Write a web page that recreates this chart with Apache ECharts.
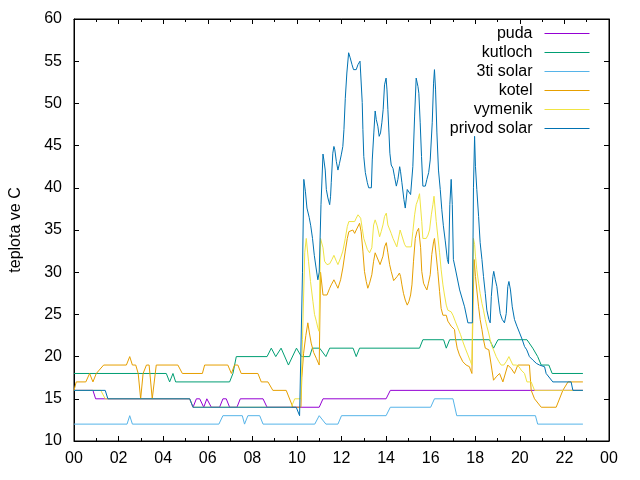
<!DOCTYPE html>
<html><head><meta charset="utf-8">
<script src="https://cdn.jsdelivr.net/npm/echarts@6/dist/echarts.min.js"></script>
<style>html,body{margin:0;padding:0;background:#fff}#c{width:640px;height:480px}</style>
</head><body><div id="c"></div>
<script>
const seriesNames = ['puda', 'kutloch', '3ti solar', 'kotel', 'vymenik', 'privod solar'];
const xTickHours = [0, 2, 4, 6, 8, 10, 12, 14, 16, 18, 20, 22, 24];
const yTicks = [10, 15, 20, 25, 30, 35, 40, 45, 50, 55, 60];

const pudaT = [0, 0.85, 0.97, 5.19, 5.34, 5.49, 5.64, 5.82, 5.96, 6.16, 6.53, 6.68, 6.83, 6.98, 7.31, 7.46, 8.48, 8.66, 11.0, 11.17, 14.0, 14.19, 22.83];
const pudaV = [16, 16, 15, 15, 14, 15, 15, 14, 15, 14, 14, 15, 15, 14, 14, 15, 15, 14, 14, 15, 15, 16, 16];

const kutlochT = [0, 4.14, 4.29, 4.44, 4.56, 6.98, 7.13, 7.28, 8.66, 8.85, 9.05, 9.29, 9.62, 9.98, 10.2, 10.57, 10.69, 11.02, 11.3, 11.47, 12.52, 12.66, 12.81, 15.5, 15.65, 16.58, 16.7, 16.85, 18.64, 18.82, 19.02, 20.32, 20.58, 20.8, 20.96, 21.3, 21.45, 22.83];
const kutlochV = [18, 18, 17, 18, 17, 17, 18, 20, 20, 21, 20, 21, 19, 21, 20, 20, 21, 21, 20, 21, 21, 20, 21, 21, 22, 22, 21, 22, 22, 21, 22, 22, 21, 20, 19, 19, 18, 18];

const solar3T = [0, 2.38, 2.5, 2.62, 6.5, 6.68, 7.55, 7.65, 7.8, 8.33, 8.48, 10.8, 11.0, 11.3, 11.84, 12.0, 14.0, 14.19, 16.0, 16.17, 17.0, 17.17, 20.7, 20.8, 22.83];
const solar3V = [12, 12, 13, 12, 12, 13, 13, 12, 13, 13, 12, 12, 13, 12, 12, 13, 13, 14, 14, 15, 15, 13, 13, 12, 12];

const kotelT = [0, 0.1, 0.53, 0.7, 0.85, 1.0, 1.33, 2.35, 2.5, 2.62, 2.77, 2.88, 2.99, 3.1, 3.25, 3.37, 3.51, 3.69, 4.66, 4.86, 5.76, 5.86, 6.9, 7.06, 7.2, 7.35, 7.5, 8.25, 8.4, 8.7, 8.92, 9.52, 9.82, 10.18, 10.22, 10.3, 10.4, 10.49, 10.56, 10.64, 10.75, 10.87, 11.0, 11.06, 11.17, 11.35, 11.47, 11.54, 11.66, 11.77, 11.84, 11.96, 12.06, 12.17, 12.26, 12.33, 12.51, 12.59, 12.66, 12.81, 12.88, 12.96, 13.03, 13.11, 13.18, 13.26, 13.36, 13.44, 13.51, 13.58, 13.73, 13.86, 13.93, 14.01, 14.08, 14.16, 14.23, 14.34, 14.42, 14.5, 14.6, 14.65, 14.71, 14.78, 14.86, 14.95, 15.02, 15.1, 15.16, 15.23, 15.31, 15.38, 15.46, 15.55, 15.6, 15.68, 15.75, 15.83, 15.9, 15.98, 16.05, 16.13, 16.17, 16.32, 16.4, 16.47, 16.55, 16.7, 16.77, 16.92, 17.07, 17.11, 17.19, 17.29, 17.44, 17.59, 17.74, 17.79, 17.85, 17.9, 17.95, 18.01, 18.07, 18.15, 18.22, 18.3, 18.37, 18.45, 18.61, 18.68, 18.75, 18.82, 18.94, 19.09, 19.24, 19.46, 19.61, 19.76, 19.91, 20.43, 20.51, 20.66, 20.96, 21.63, 21.93, 22.16, 22.83];
const kotelV = [16, 17, 17, 18, 17, 18, 19, 19, 20, 19, 19, 18, 15, 18, 19, 19, 15, 19, 19, 18, 18, 19, 19, 18, 19, 19, 18, 18, 17, 17, 16, 16, 14, 14, 17.5, 20.4, 22.5, 24, 22.8, 21.6, 20.5, 19.8, 19, 30, 27.3, 27.3, 28.1, 28.5, 29.1, 28.5, 28.1, 29.1, 30.5, 32.5, 34, 34.8, 35, 34.6, 35, 35.8, 34.8, 32.5, 30.1, 28.9, 28.1, 28.7, 29.7, 31.3, 32.3, 32.1, 30.9, 31.9, 33, 33.5, 32.3, 30.9, 30.1, 29, 29, 29.5, 29.9, 29.5, 28.5, 27.5, 26.7, 26.1, 26.5, 27.3, 28.5, 31.3, 34, 34.8, 35.2, 32.9, 30.1, 28.7, 28.3, 27.9, 28.7, 29.7, 32.1, 33.6, 34, 30.1, 27.7, 25.7, 24.9, 24.9, 24.2, 23.6, 23.2, 22.2, 21, 20.2, 19.4, 19, 18.8, 18.4, 18, 26, 31.5, 29.5, 27.9, 25.9, 24.4, 23.2, 22, 21, 20.8, 19.6, 18.4, 17.2, 17.6, 18, 17, 19, 18.6, 18, 19, 19, 16, 15, 14, 14, 16, 17, 17];

const vymenikT = [0, 1.2, 1.4, 5.19, 5.34, 9.75, 9.9, 10.18, 10.25, 10.35, 10.42, 10.47, 10.52, 10.61, 10.72, 10.79, 10.87, 10.94, 10.99, 11.06, 11.17, 11.24, 11.35, 11.47, 11.57, 11.66, 11.77, 11.84, 11.96, 12.06, 12.17, 12.26, 12.33, 12.59, 12.66, 12.74, 12.81, 12.86, 12.93, 13.0, 13.16, 13.26, 13.36, 13.44, 13.51, 13.6, 13.71, 13.78, 13.86, 13.93, 14.01, 14.08, 14.23, 14.31, 14.48, 14.63, 14.71, 14.83, 14.9, 15.13, 15.2, 15.28, 15.35, 15.43, 15.5, 15.6, 15.65, 15.8, 15.88, 15.95, 16.03, 16.1, 16.15, 16.25, 16.4, 16.47, 16.55, 16.62, 16.7, 16.77, 16.92, 17.0, 17.1, 17.22, 17.34, 17.44, 17.55, 17.67, 17.79, 17.85, 17.92, 17.97, 18.01, 18.07, 18.15, 18.22, 18.3, 18.37, 18.45, 18.52, 18.6, 18.67, 18.75, 18.82, 18.94, 19.06, 19.16, 19.28, 19.39, 19.51, 19.58, 19.69, 19.84, 19.96, 20.06, 20.21, 20.32, 20.51, 20.66, 22.83];
const vymenikV = [16, 16, 15, 15, 14, 14, 15, 15, 22, 32.3, 34, 34.1, 31.3, 28.9, 26.5, 25, 24.2, 23.4, 23, 34, 32.9, 31.3, 30.9, 31, 31.5, 32, 31.3, 30.9, 31.7, 32.5, 34, 35.4, 36, 36, 36.4, 36.8, 37, 36.4, 35.2, 34, 32.7, 32.3, 32.9, 35.6, 36.2, 35.5, 34.2, 34.8, 35.6, 36.6, 37, 35.6, 34.6, 34, 33, 35, 35, 33.3, 33, 33, 34.8, 36.8, 38, 38.6, 39.3, 36, 34, 34, 34.4, 35, 36.8, 38, 39, 36, 32.3, 30.3, 28.5, 27.3, 26.1, 25.5, 25.3, 24.9, 24.2, 23.4, 22.6, 21.8, 21, 20.2, 19.4, 19, 34, 33.3, 31.9, 30.3, 28.7, 27.5, 26.3, 25.5, 24.4, 23.6, 22.8, 22, 21.2, 20.8, 20, 19.4, 19, 19, 19.4, 20, 19.6, 19, 19, 18.8, 18.4, 18, 17, 17, 16, 16];

const privodT = [0, 1.4, 1.52, 5.19, 5.34, 9.97, 10.12, 10.2, 10.25, 10.31, 10.38, 10.45, 10.55, 10.62, 10.7, 10.78, 10.86, 10.94, 11.0, 11.08, 11.17, 11.21, 11.27, 11.32, 11.39, 11.47, 11.51, 11.54, 11.61, 11.66, 11.7, 11.77, 11.84, 11.91, 11.99, 12.06, 12.11, 12.17, 12.24, 12.32, 12.39, 12.47, 12.54, 12.66, 12.74, 12.83, 12.86, 12.93, 12.96, 13.0, 13.07, 13.16, 13.22, 13.34, 13.38, 13.45, 13.51, 13.56, 13.63, 13.69, 13.75, 13.81, 13.87, 13.93, 14.0, 14.04, 14.08, 14.13, 14.17, 14.23, 14.31, 14.38, 14.46, 14.53, 14.61, 14.65, 14.71, 14.8, 14.86, 14.95, 15.01, 15.1, 15.2, 15.28, 15.35, 15.43, 15.47, 15.53, 15.59, 15.65, 15.76, 15.83, 15.91, 15.98, 16.07, 16.13, 16.17, 16.22, 16.28, 16.35, 16.43, 16.5, 16.57, 16.65, 16.75, 16.8, 16.86, 16.92, 16.97, 17.02, 17.1, 17.3, 17.52, 17.67, 17.87, 17.92, 17.97, 18.01, 18.07, 18.15, 18.22, 18.3, 18.37, 18.45, 18.52, 18.61, 18.67, 18.72, 18.79, 18.83, 18.9, 18.97, 19.04, 19.12, 19.21, 19.31, 19.39, 19.46, 19.51, 19.58, 19.66, 19.76, 19.87, 19.99, 20.11, 20.21, 20.31, 20.43, 20.58, 20.74, 20.88, 21.11, 21.18, 21.48, 22.3, 22.38, 22.83];
const privodV = [16, 16, 15, 15, 14, 14, 13, 13, 30, 41, 39.6, 37.6, 36.5, 35.5, 34, 32, 30.5, 29.1, 30, 38, 44, 43.3, 42.1, 39.8, 38.8, 38, 39, 40.6, 44.1, 44.9, 44.5, 43.1, 42.1, 42.9, 43.9, 44.9, 46.9, 50.6, 53.6, 56, 55.4, 54.6, 54, 54, 54.6, 55, 53.6, 50.1, 46.9, 43.7, 41.8, 40.6, 40, 40, 43.3, 46.5, 49.1, 48.1, 47.3, 46.1, 46.5, 47.7, 49.3, 52.2, 53, 51.6, 49.3, 46.5, 44.1, 42.7, 42.3, 41.3, 40.2, 41, 42.5, 41.9, 40.6, 38.6, 37.6, 39.8, 40, 39.2, 42.5, 48.5, 53, 52, 51.2, 47.7, 43.7, 40.2, 40.2, 41, 41.8, 43.3, 47.7, 52.4, 54, 51.6, 46.5, 42.1, 39.8, 37.4, 35.5, 33.8, 31.5, 31, 38, 41, 38, 31.5, 30.5, 27.9, 25.9, 24, 24, 40, 46.1, 42.5, 39.8, 36.6, 33.5, 31.5, 29.5, 27.5, 25.5, 24.4, 24, 27.1, 29.5, 30.1, 29.1, 28.3, 26.7, 25.1, 24.4, 24, 25.1, 28.3, 28.9, 27.9, 25.9, 24.4, 23.6, 22.8, 22, 21.2, 20.8, 20, 19.6, 19.2, 19, 18.8, 18, 17, 17, 16, 16];

const colors = ['#9400d3', '#009e73', '#56b4e9', '#e69f00', '#f0e442', '#0072b2'];
const allT = [pudaT, kutlochT, solar3T, kotelT, vymenikT, privodT];
const allV = [pudaV, kutlochV, solar3V, kotelV, vymenikV, privodV];

const FONT = 'Liberation Sans';
const pad2 = v => { const h = Math.round(v) % 24; return (h < 10 ? '0' : '') + h; };

const chart = echarts.init(document.getElementById('c'), null, {renderer: 'canvas'});
const axisBase = {
  type: 'value',
  axisLine: {show: true, onZero: false, lineStyle: {color: '#000', width: 1}},
  splitLine: {show: false},
};
chart.setOption({
  animation: false,
  backgroundColor: '#fff',
  grid: {left: 74, right: 31, top: 19, bottom: 39, show: true, borderColor: '#000', borderWidth: 1},
  legend: {
    orient: 'vertical', right: 50, top: 25.5, align: 'right', padding: 0,
    itemWidth: 45, itemHeight: 16, itemGap: 3,
    data: seriesNames,
    itemStyle: {opacity: 0},
    lineStyle: {width: 1, color: 'inherit', type: 'solid', opacity: 1},
    textStyle: {fontFamily: FONT, fontSize: 16, color: '#000', padding: [0, 7, 0, 0]}
  },
  xAxis: [
    Object.assign({}, axisBase, {
      position: 'bottom', min: xTickHours[0], max: xTickHours[xTickHours.length - 1], interval: 2,
      axisTick: {show: true, inside: true, length: 5, lineStyle: {color: '#000'}},
      minorTick: {show: true, splitNumber: 2, length: 3, lineStyle: {color: '#000'}},
      axisLabel: {fontFamily: FONT, fontSize: 16, color: '#000', margin: 10, formatter: pad2}
    }),
    Object.assign({}, axisBase, {
      position: 'top', min: xTickHours[0], max: xTickHours[xTickHours.length - 1], interval: 2,
      axisTick: {show: true, inside: true, length: 5, lineStyle: {color: '#000'}},
      minorTick: {show: true, splitNumber: 2, length: 3, lineStyle: {color: '#000'}},
      axisLabel: {show: false}
    })
  ],
  yAxis: [
    Object.assign({}, axisBase, {
      position: 'left', min: yTicks[0], max: yTicks[yTicks.length - 1], interval: 5,
      axisTick: {show: true, inside: true, length: 5, lineStyle: {color: '#000'}},
      axisLabel: {fontFamily: FONT, fontSize: 16, color: '#000', margin: 12},
      name: 'teplota ve C', nameLocation: 'middle', nameGap: 50, nameRotate: 90,
      nameTextStyle: {fontFamily: FONT, fontSize: 16, color: '#000'}
    }),
    Object.assign({}, axisBase, {
      position: 'right', min: yTicks[0], max: yTicks[yTicks.length - 1], interval: 5,
      axisTick: {show: true, inside: true, length: 5, lineStyle: {color: '#000'}},
      axisLabel: {show: false}
    })
  ],
  series: seriesNames.map((name, i) => ({
    name: name, type: 'line', xAxisIndex: 0, yAxisIndex: 0,
    symbol: 'none', showSymbol: false,
    color: colors[i],
    lineStyle: {width: 1, color: colors[i]},
    data: allT[i].map((t, k) => [t, allV[i][k]])
  }))
});
</script>
</body></html>
